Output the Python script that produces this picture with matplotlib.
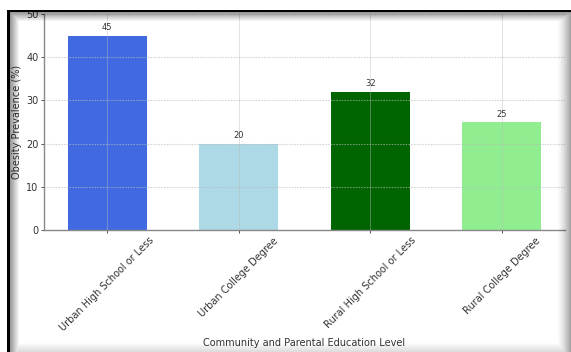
import numpy as np
import matplotlib.pyplot as plt

categories = ['Urban High School or Less', 'Urban College Degree',
              'Rural High School or Less', 'Rural College Degree']
prevalence = [45, 20, 32, 25]
bar_colors = ['royalblue', 'lightblue', 'darkgreen', 'lightgreen']

W, H = 571, 352
fig = plt.figure(figsize=(W / 100, H / 100), dpi=100)
ax = fig.add_axes([44 / W, 1 - 230 / H, (565 - 44) / W, (230 - 14) / H])

bars = ax.bar(categories, prevalence, color=bar_colors, width=0.6)
for rect, val in zip(bars, prevalence):
    ax.text(rect.get_x() + rect.get_width() / 2, val + 0.8, str(val),
            ha='center', va='bottom', fontsize=6, color='#333333')

ax.set_ylim(0, 50)
ax.set_yticks([0, 10, 20, 30, 40, 50])
ax.grid(True, axis='y', linestyle=(0, (1.5, 1)), color='#bbbbbb', linewidth=0.8, alpha=0.6)
ax.grid(True, axis='x', linestyle='-', color='#bbbbbb', linewidth=0.6, alpha=0.5)
ax.tick_params(labelsize=7, colors='#333333', length=2, width=0.6, pad=2)
plt.setp(ax.get_xticklabels(), rotation=45, ha='center')
for side in ['top', 'right']:
    ax.spines[side].set_visible(False)
for side in ['left', 'bottom']:
    ax.spines[side].set_color('#888888')
    ax.spines[side].set_linewidth(1.0)

ax.set_ylabel('Obesity Prevalence (%)', fontsize=7, color='#333333')
ax.yaxis.set_label_coords(-0.043, 0.5)
fig.text(304 / W, 1 - 343 / H, 'Community and Parental Education Level',
         ha='center', va='center', fontsize=7, color='#333333')

# dark window frame with soft shadow around the plot
rgba = np.zeros((H, W, 4))
yy, xx = np.mgrid[0:H, 0:W]
shade = np.zeros((H, W))
shade = np.maximum(shade, np.clip(1 - (yy - 12) / 9, 0, 1) * 0.4 * (yy >= 12))
shade = np.maximum(shade, np.clip(1 - (xx - 10) / 9, 0, 1) * 0.4 * (xx >= 10))
shade = np.maximum(shade, np.clip((xx - 556) / 15, 0, 1) ** 1.5 * 0.4)
shade = np.maximum(shade, np.clip((yy - 342) / 10, 0, 1) * 0.15)
rgba[..., 3] = shade
black = ((yy >= 10) & (yy <= 11) & (xx >= 7)) | ((xx >= 7) & (xx <= 9) & (yy >= 10))
rgba[black] = [0, 0, 0, 1]
white = (yy < 10) | (xx < 7)
rgba[white] = [1, 1, 1, 1]

fig.figimage(rgba, xo=0, yo=0, origin='upper', zorder=10)

fig.savefig('out.png', dpi=100)
